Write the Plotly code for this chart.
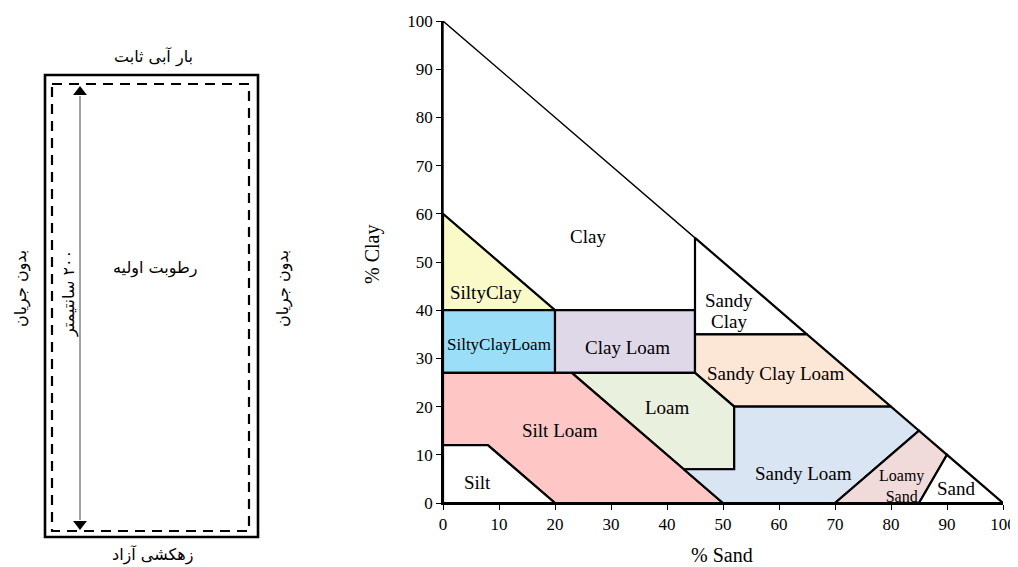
import plotly.graph_objects as go

# page is 1018x567; the browser body adds an 8px margin, so the figure is made 8px
# smaller and reference-pixel positions are shifted by OFF.
PAGE_W, PAGE_H = 1018, 567
OFF = 8
FW, FH = PAGE_W - OFF, PAGE_H - OFF

# ---------------- data: soil texture classes (x = % sand, y = % clay) ----------------
class_names = ["Clay", "SiltyClay", "SiltyClayLoam", "Clay Loam", "Sandy Clay",
               "Sandy Clay Loam", "Loam", "Silt Loam", "Silt", "Sandy Loam",
               "Loamy Sand", "Sand"]
class_sand = [
    [0, 0, 45, 45, 20, 0],
    [0, 0, 20, 0],
    [0, 0, 20, 20, 0],
    [20, 20, 45, 45, 20],
    [45, 45, 65, 45],
    [45, 45, 65, 80, 52, 45],
    [23, 45, 52, 52, 43, 23],
    [0, 0, 23, 50, 20, 8, 0],
    [0, 0, 8, 20, 0],
    [43, 52, 52, 80, 85, 70, 50, 43],
    [70, 85, 90, 85, 70],
    [85, 90, 100, 85],
]
class_clay = [
    [60, 100, 55, 40, 40, 60],
    [40, 60, 40, 40],
    [27, 40, 40, 27, 27],
    [27, 40, 40, 27, 27],
    [35, 55, 35, 35],
    [27, 35, 35, 20, 20, 27],
    [27, 27, 20, 7, 7, 27],
    [12, 27, 27, 0, 0, 12, 12],
    [0, 12, 12, 0, 0],
    [7, 7, 20, 20, 15, 0, 0, 7],
    [0, 15, 10, 0, 0],
    [0, 10, 0, 0],
]
class_colors = ["#FFFFFF", "#FAFAC8", "#9ADFF7", "#DFD8E9", "#FFFFFF",
                "#FCE6D6", "#E9F0DD", "#FFC6C6", "#FFFFFF", "#DAE5F3",
                "#F1DADA", "#FFFFFF"]

label_texts = ["Clay", "SiltyClay", "SiltyClayLoam", "Clay Loam", "Sandy", "Clay",
               "Sandy Clay Loam", "Loam", "Silt Loam", "Silt", "Sandy Loam",
               "Loamy<br>Sand", "Sand"]
label_sand = [25.9, 7.6, 10.0, 33.0, 51.0, 51.0, 59.4, 40.0, 20.9, 6.2, 64.4,
              81.8, 91.7]
label_clay = [55.2, 43.6, 32.9, 32.2, 42.1, 37.6, 26.8, 19.9, 15.1, 4.2, 6.2,
              3.5, 3.0]
label_sizes = [19, 19, 17, 19, 19, 19, 19, 19, 19, 19, 19, 16, 19]

axis_ticks = [0, 10, 20, 30, 40, 50, 60, 70, 80, 90, 100]

# ---------------- schematic (left panel) texts ----------------
top_text = "بار آبی ثابت"
bottom_text = "زهکشی آزاد"
side_text = "بدون جریان"
center_text = "رطوبت اولیه"
length_text = "سانتیمتر\u200e ۲۰۰"

fig = go.Figure()

serif = "Liberation Serif, Times New Roman, serif"

for name, xs, ys, col in zip(class_names, class_sand, class_clay, class_colors):
    fig.add_trace(go.Scatter(
        x=xs, y=ys, mode="lines", fill="toself", fillcolor=col,
        line=dict(color="black", width=1.4 if name == "Clay" else 2.2),
        name=name, hoverinfo="name", showlegend=False,
    ))

for t, xv, yv, s in zip(label_texts, label_sand, label_clay, label_sizes):
    fig.add_annotation(x=xv, y=yv, xref="x", yref="y", text=t, showarrow=False,
                       font=dict(family=serif, size=s, color="black"))

# ---------------- schematic on a helper axis measured in page pixels ----------------
outer = dict(x0=45, x1=258, y0=75, y1=537)
inner = dict(x0=52, x1=249, y0=84, y1=531)
arrow_x = 80
arrow_top, arrow_bottom = 86, 530

fig.add_shape(type="rect", xref="x2", yref="y2", **outer,
              line=dict(color="black", width=2.6))
fig.add_shape(type="rect", xref="x2", yref="y2", **inner,
              line=dict(color="black", width=2.2, dash="10px,7px"))
fig.add_shape(type="line", xref="x2", yref="y2", x0=arrow_x, x1=arrow_x,
              y0=arrow_top + 10, y1=arrow_bottom - 10,
              line=dict(color="#666666", width=1.2))
fig.add_trace(go.Scatter(
    x=[arrow_x, arrow_x], y=[arrow_top + 6, arrow_bottom - 6], xaxis="x2", yaxis="y2",
    mode="markers", marker=dict(symbol=["triangle-up", "triangle-down"], size=12,
                                color="black", line=dict(width=0)),
    hoverinfo="skip", showlegend=False,
))

pfont = dict(family="DejaVu Sans, Noto Sans, sans-serif", size=16, color="black")
fig.add_annotation(x=153, y=57, xref="x2", yref="y2", text=top_text,
                   showarrow=False, font=pfont)
fig.add_annotation(x=152, y=555, xref="x2", yref="y2", text=bottom_text,
                   showarrow=False, font=pfont)
fig.add_annotation(x=21, y=289, xref="x2", yref="y2", text=side_text,
                   showarrow=False, font=pfont, textangle=-90)
fig.add_annotation(x=283, y=289, xref="x2", yref="y2", text=side_text,
                   showarrow=False, font=pfont, textangle=-90)
fig.add_annotation(x=155, y=268, xref="x2", yref="y2", text=center_text,
                   showarrow=False, font=pfont)
fig.add_annotation(x=69, y=294, xref="x2", yref="y2", text=length_text,
                   showarrow=False, font=pfont, textangle=-90)


def px_to_paper(px, py):
    return (px - OFF) / FW, (PAGE_H - py) / FH


# axis titles
tfont = dict(family=serif, size=20, color="black")
yx, yy = px_to_paper(372, 255)
fig.add_annotation(x=yx, y=yy, xref="paper", yref="paper", text="% Clay",
                   showarrow=False, font=tfont, textangle=-90,
                   xanchor="center", yanchor="middle")
sx, sy = px_to_paper(722, 555)
fig.add_annotation(x=sx, y=sy, xref="paper", yref="paper", text="% Sand",
                   showarrow=False, font=tfont, xanchor="center", yanchor="middle")

tickfont = dict(family=serif, size=17, color="black")
fig.update_layout(
    width=FW, height=FH,
    margin=dict(l=0, r=0, t=0, b=0, autoexpand=False),
    paper_bgcolor="white", plot_bgcolor="rgba(0,0,0,0)",
    xaxis=dict(domain=[(443 - OFF) / FW, (1003 - OFF) / FW], range=[0, 100],
               automargin=False,
               tickvals=axis_ticks, ticks="outside", ticklen=5, tickwidth=1.2,
               tickcolor="black", showline=True, linecolor="black", linewidth=1.6,
               showgrid=False, zeroline=False, tickfont=tickfont),
    yaxis=dict(domain=[(PAGE_H - 503) / FH, (PAGE_H - 21) / FH], range=[0, 100],
               automargin=False,
               tickvals=axis_ticks, ticks="outside", ticklen=5, tickwidth=1.2,
               tickcolor="black", showline=True, linecolor="black", linewidth=1.6,
               showgrid=False, zeroline=False, tickfont=tickfont),
    xaxis2=dict(domain=[0, (300 - OFF) / FW], range=[OFF, 300], visible=False,
                fixedrange=True, anchor="y2", automargin=False),
    yaxis2=dict(domain=[0, 1], range=[PAGE_H, OFF], visible=False, fixedrange=True,
                anchor="x2", automargin=False),
)

fig.write_html("out.html")
